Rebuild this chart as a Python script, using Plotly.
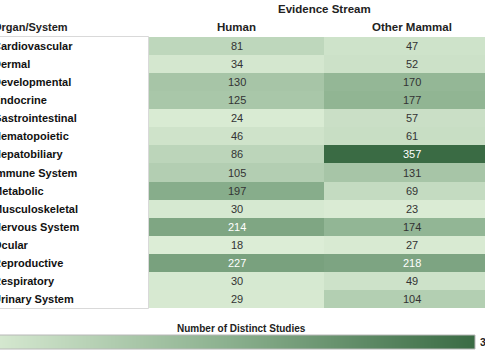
import plotly.graph_objects as go

organs = ["Cardiovascular", "Dermal", "Developmental", "Endocrine", "Gastrointestinal",
          "Hematopoietic", "Hepatobiliary", "Immune System", "Metabolic", "Musculoskeletal",
          "Nervous System", "Ocular", "Reproductive", "Respiratory", "Urinary System"]
streams = ["Human", "Other Mammal"]
human = [81, 34, 130, 125, 24, 46, 86, 105, 197, 30, 214, 18, 227, 30, 29]
other_mammal = [47, 52, 170, 177, 57, 61, 357, 131, 69, 23, 174, 27, 218, 49, 104]

FONT = "Liberation Sans, Arial, sans-serif"
W, H = 485, 360
# pixel geometry of the table
X0, Y0, Y1 = 149, 37, 308
COLW = 175.0
# colour legend bar geometry
CB_X1, CB_Y0, CB_Y1 = 475, 335, 349


def fx(px):
    return px / W


def fy(py):
    return (H - py) / H


z = [[h, o] for h, o in zip(human, other_mammal)]
zmin = min(human + other_mammal)
zmax = max(human + other_mammal)

colorscale = [[0.0, "#dcedd6"], [0.5, "#8cb18f"], [1.0, "#3a6b44"]]

fig = go.Figure()
fig.add_trace(go.Heatmap(
    z=z, x=streams, y=organs, xaxis="x", yaxis="y",
    colorscale=colorscale, zmin=zmin, zmax=zmax,
    showscale=False, hoverinfo="skip",
))
# colour legend: gradient between the data minimum and maximum
fig.add_trace(go.Heatmap(
    z=[[zmin, zmax]], x=[0, 1], y=[0], xaxis="x2", yaxis="y2",
    colorscale=colorscale, zmin=zmin, zmax=zmax, zsmooth="best",
    showscale=False, hoverinfo="skip",
))

ann = []
for i, org in enumerate(organs):
    for j, s in enumerate(streams):
        v = z[i][j]
        ann.append(dict(x=s, y=org, xref="x", yref="y", text=str(v), showarrow=False,
                        font=dict(family=FONT, size=11, color="#ffffff" if v > 200 else "#333333")))
    ann.append(dict(x=fx(-9), y=org, xref="paper", yref="y", text="<b>%s</b>" % org, showarrow=False,
                    xanchor="left", font=dict(family=FONT, size=11, color="#111111")))

ann.append(dict(x=fx(-9), y=fy(27), xref="paper", yref="paper",
                text="<b>Organ/System</b>", showarrow=False, xanchor="left", yanchor="middle",
                font=dict(family=FONT, size=11, color="#222222")))
for s in streams:
    ann.append(dict(x=s, y=fy(27), xref="x", yref="paper", text="<b>%s</b>" % s,
                    showarrow=False, yanchor="middle", font=dict(family=FONT, size=11.5, color="#222222")))
ann.append(dict(x=0.5, y=fy(9), xref="x", yref="paper", text="<b>Evidence Stream</b>",
                showarrow=False, yanchor="middle", font=dict(family=FONT, size=11.5, color="#222222")))
ann.append(dict(x=fx(241), y=fy(328), xref="paper", yref="paper", text="<b>Number of Distinct Studies</b>",
                showarrow=False, yanchor="middle", font=dict(family=FONT, size=10, color="#222222")))
ann.append(dict(x=fx(477.5), y=fy(342), xref="paper", yref="paper", text="<b>%d</b>" % zmax,
                showarrow=False, xanchor="left", yanchor="middle", font=dict(family=FONT, size=10.5, color="#222222")))

noax = dict(showticklabels=False, showgrid=False, zeroline=False, ticks="", showline=False)
fig.update_layout(
    width=W, height=H,
    margin=dict(l=0, r=0, t=0, b=0),
    paper_bgcolor="white", plot_bgcolor="white",
    xaxis=dict(domain=[fx(X0), 1], range=[-0.5, -0.5 + (W - X0) / COLW], **noax),
    yaxis=dict(domain=[fy(Y1), fy(Y0)], autorange="reversed", **noax),
    xaxis2=dict(domain=[0, fx(CB_X1)], range=[0.05, 1], anchor="y2", **noax),
    yaxis2=dict(domain=[fy(CB_Y1), fy(CB_Y0)], range=[-0.5, 0.5], anchor="x2", **noax),
    annotations=ann,
    shapes=[
        dict(type="rect", xref="paper", yref="paper", x0=fx(-10), x1=fx(X0 - 0.5), y0=fy(Y1 + 0.5), y1=fy(Y0 - 0.5),
             line=dict(color="#d9d9d9", width=1), fillcolor="rgba(0,0,0,0)", layer="above"),
        dict(type="rect", xref="paper", yref="paper", x0=fx(-10), x1=fx(CB_X1), y0=fy(CB_Y1), y1=fy(CB_Y0),
             line=dict(color="#b8b8b8", width=1), fillcolor="rgba(0,0,0,0)", layer="above"),
    ],
)

fig.write_html("out.html", config={"displayModeBar": False},
               post_script="document.body.style.margin='0';document.body.style.overflow='hidden';")
